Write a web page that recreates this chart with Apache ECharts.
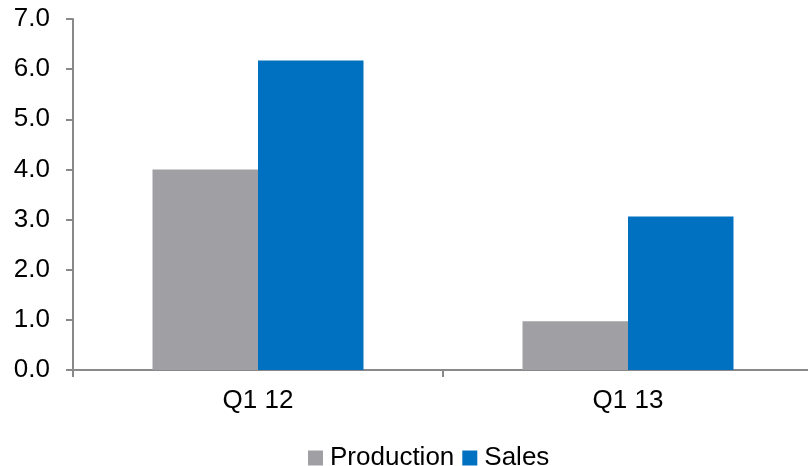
<!DOCTYPE html>
<html>
<head>
<meta charset="utf-8">
<script src="https://cdn.jsdelivr.net/npm/echarts@6/dist/echarts.min.js"></script>
<style>html,body{margin:0;padding:0;background:#fff;overflow:hidden;width:808px;height:466px}#c{width:813px;height:466px}</style>
</head>
<body>
<div id="c"></div>
<script>
var categories = ['Q1 12', 'Q1 13'];
var production = [4.0, 0.97];
var sales = [6.17, 3.06];
var yTicks = { min: 0, max: 7, interval: 1 };

var chart = echarts.init(document.getElementById('c'), null, { renderer: 'canvas' });
var font = 'Arial, "Liberation Sans", sans-serif';
chart.setOption({
  animation: false,
  grid: { left: 73, top: 19, right: 0, height: 351, containLabel: false },
  legend: {
    left: 303, top: 440,
    itemWidth: 15, itemHeight: 15, itemGap: 8,
    icon: 'rect',
    textStyle: { fontFamily: font, fontSize: 26, color: '#000', padding: [0, 0, 0, 2] },
    data: ['Production', 'Sales']
  },
  xAxis: {
    type: 'category',
    data: categories,
    axisLine: { lineStyle: { color: '#898989', width: 2 } },
    axisTick: { show: true, length: 7, interval: 0, lineStyle: { color: '#898989', width: 2 } },
    axisLabel: { fontFamily: font, fontSize: 26, color: '#000', margin: 18 }
  },
  yAxis: {
    type: 'value',
    min: yTicks.min, max: yTicks.max, interval: yTicks.interval,
    splitLine: { show: false },
    axisLine: { show: true, lineStyle: { color: '#898989', width: 2 } },
    axisTick: { show: true, length: 7, lineStyle: { color: '#898989', width: 2 } },
    axisLabel: { fontFamily: font, fontSize: 26, color: '#000', margin: 23,
      formatter: function (v) { return v.toFixed(1); } }
  },
  series: [
    { name: 'Production', type: 'bar', data: production, barWidth: 105.5, barGap: '0%',
      itemStyle: { color: '#A0A0A4' } },
    { name: 'Sales', type: 'bar', data: sales, barWidth: 105.5, barGap: '0%',
      itemStyle: { color: '#0070C0' } }
  ]
});
</script>
</body>
</html>
